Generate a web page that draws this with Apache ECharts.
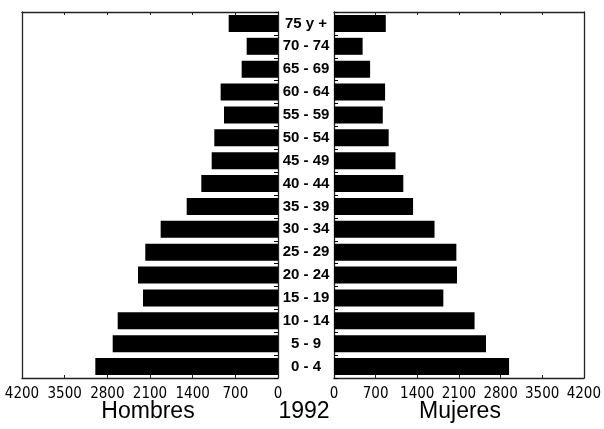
<!DOCTYPE html>
<html>
<head>
<meta charset="utf-8">
<script src="https://cdn.jsdelivr.net/npm/echarts@6/dist/echarts.min.js"></script>
<style>
html,body{margin:0;padding:0;background:#fff;}
#chart{width:604px;height:429px;}
</style>
</head>
<body>
<div id="chart"></div>
<script>
var ageGroups = ["0 - 4","5 - 9","10 - 14","15 - 19","20 - 24","25 - 29","30 - 34","35 - 39","40 - 44","45 - 49","50 - 54","55 - 59","60 - 64","65 - 69","70 - 74","75 y +"];
var hombres = [2997, 2712, 2630, 2215, 2297, 2177, 1925, 1498, 1258, 1088, 1045, 886, 941, 596, 514, 809];
var mujeres = [2943, 2555, 2363, 1838, 2068, 2057, 1690, 1329, 1165, 1034, 919, 820, 859, 607, 481, 870];
var xTicks = [0, 700, 1400, 2100, 2800, 3500, 4200];
var leftTitle = "Hombres";
var rightTitle = "Mujeres";
var yearLabel = "1992";

var chart = echarts.init(document.getElementById('chart'), null, {renderer: 'canvas'});
var tickFont = {fontFamily: '"Liberation Sans Narrow","DejaVu Sans Condensed",sans-serif', fontSize: 15, color: '#000'};
var axisMin = xTicks[0], axisMax = xTicks[xTicks.length - 1], axisStep = xTicks[1] - xTicks[0];
var lineCol = '#222';

var G0 = {left: 22, top: 12, width: 256, height: 366};
var G1 = {left: 334, top: 12, width: 255, height: 366};

function xAx(gridIndex, inverse, position, showLabel) {
  return {
    type: 'value', gridIndex: gridIndex, inverse: inverse, position: position,
    min: axisMin, max: axisMax, interval: axisStep,
    axisLine: {show: true, onZero: false, lineStyle: {color: lineCol, width: 1.3}},
    axisTick: {show: true, inside: true, length: 3, lineStyle: {color: lineCol}},
    splitLine: {show: false},
    axisLabel: Object.assign({show: showLabel, margin: 9, formatter: function (v) { return String(v); }}, tickFont)
  };
}

function yAx(gridIndex, position, showLabel) {
  return {
    type: 'category', gridIndex: gridIndex, position: position, data: ageGroups,
    axisLine: {show: true, onZero: false, lineStyle: {color: lineCol, width: 1.3}},
    axisTick: {show: true, inside: true, length: 4, lineStyle: {color: '#000'}},
    axisLabel: {show: showLabel, align: 'center', margin: 28, fontFamily: '"Liberation Sans",Arial,sans-serif', fontWeight: 'bold', fontSize: 15, color: '#000'}
  };
}

function yEdge(gridIndex, position) {
  return {
    type: 'category', gridIndex: gridIndex, position: position, data: ageGroups,
    axisLine: {show: true, onZero: false, lineStyle: {color: lineCol, width: 1.3}},
    axisTick: {show: false}, axisLabel: {show: false}
  };
}

var option = {
  animation: false,
  backgroundColor: '#fff',
  grid: [
    Object.assign({show: false}, G0),
    Object.assign({show: false}, G1)
  ],
  xAxis: [
    xAx(0, true, 'bottom', true),
    xAx(1, false, 'bottom', true),
    xAx(0, true, 'top', false),
    xAx(1, false, 'top', false)
  ],
  yAxis: [
    yAx(0, 'right', true),
    yAx(1, 'left', false),
    yEdge(0, 'left'),
    yEdge(1, 'right')
  ],
  series: [
    {type: 'bar', xAxisIndex: 0, yAxisIndex: 0, data: hombres, barWidth: 17, itemStyle: {color: '#000'}, silent: true},
    {type: 'bar', xAxisIndex: 1, yAxisIndex: 1, data: mujeres, barWidth: 17, itemStyle: {color: '#000'}, silent: true}
  ],
  graphic: [
    {type: 'text', style: {text: leftTitle, font: '23px "Liberation Sans",Arial,sans-serif', fill: '#000', textAlign: 'center', textVerticalAlign: 'middle'}, position: [148, 412]},
    {type: 'text', style: {text: yearLabel, font: '23px "Liberation Sans",Arial,sans-serif', fill: '#000', textAlign: 'center', textVerticalAlign: 'middle'}, position: [304, 412]},
    {type: 'text', style: {text: rightTitle, font: '23px "Liberation Sans",Arial,sans-serif', fill: '#000', textAlign: 'center', textVerticalAlign: 'middle'}, position: [460, 412]}
  ]
};
chart.setOption(option);
</script>
</body>
</html>
